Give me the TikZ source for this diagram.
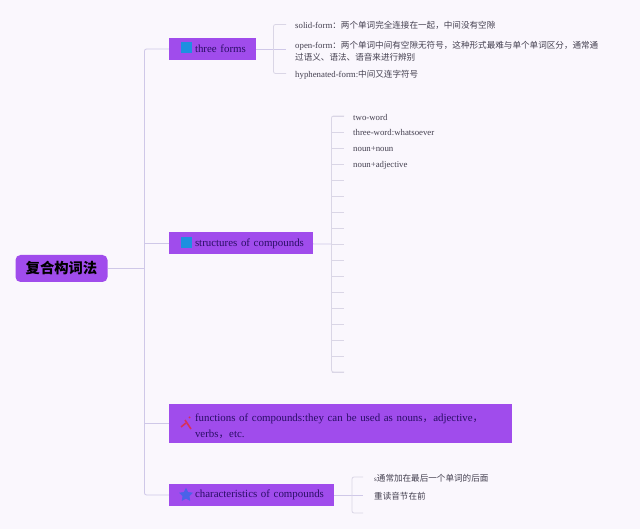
\documentclass[tikz,border=0pt]{standalone}
\usepackage{fontspec}
\setmainfont{Liberation Serif}
\newfontfamily\cjk[Scale=0.975]{Noto Sans CJK SC}
\usetikzlibrary{positioning,shapes.geometric}
\definecolor{paper}{HTML}{FAF7FD}
\definecolor{violet}{HTML}{A04CEC}
\definecolor{trunkline}{HTML}{CFC8E8}
\definecolor{stubline}{HTML}{DAD6E6}
\definecolor{iconblue}{HTML}{1E90E0}
\definecolor{starblue}{HTML}{4A62E8}
\definecolor{iconred}{HTML}{D8305A}
\definecolor{boxtext}{HTML}{2A0E66}
\definecolor{leaftext}{HTML}{444050}
\newcommand{\pad}{\hspace*{26pt}}

\begin{document}
\begin{tikzpicture}[x=1pt, y=-1pt]
  \tikzstyle{root}=[rectangle, fill=violet, rounded corners=5pt, minimum width=92pt, minimum height=27pt, inner sep=0pt, font=\cjk\fontsize{14.7}{17}\bfseries\selectfont]
  \tikzstyle{box}=[rectangle, fill=violet, text=boxtext, inner xsep=0pt, inner ysep=0pt, minimum height=22pt, align=left, font=\fontsize{10.9}{16}\selectfont]
  \tikzstyle{leaf}=[inner sep=0pt, text=leaftext, align=left, font=\fontsize{8.8}{12}\selectfont]
  \tikzstyle{link}=[draw=trunkline, line width=0.8pt]
  \tikzstyle{stub}=[draw=stubline, line width=0.8pt]
  \tikzstyle{square}=[rectangle, fill=iconblue, minimum size=11pt, inner sep=0pt]
  \tikzstyle{starmark}=[star, star points=5, star point ratio=2, draw=starblue, fill=starblue, line width=0.6pt, minimum size=13pt, inner sep=0pt]

  \fill[paper] (0,0) rectangle (640,529);

  \node[root] (root) at (61.5,268.5) {复合构词法};
  \node[box, text width=87pt] (forms) at (212.5,49) {\pad three forms};
  \node[box, text width=144pt] (struct) at (241,243.5) {\pad structures of compounds};
  \node[box, text width=343pt, minimum height=39pt] (funcs) at (340.5,423.5) {\rule{0pt}{13pt}\pad functions of compounds:they can be used as nouns{\cjk，}adjective{\cjk，}\\\pad verbs{\cjk，}etc.};
  \node[box, text width=165pt] (chars) at (251.5,495) {\pad characteristics of compounds};

  \node[square] (iconforms) at (186,48) {};
  \node[square] (iconstruct) at (186,243) {};
  \node[starmark] (iconchars) at (186,495) {};
  \coordinate (iconfuncs) at (186,424);
  \draw[iconred, line width=1.6pt] ([shift={(-1,-4)}]iconfuncs) -- ([shift={(5,5)}]iconfuncs);
  \draw[iconred, line width=1.6pt] ([shift={(-5,3)}]iconfuncs) -- ([shift={(0,-1)}]iconfuncs);
  \draw[iconred, line width=1.6pt] ([shift={(3,-6)}]iconfuncs) -- ([shift={(4,-7)}]iconfuncs);

  \coordinate (mid) at (144.5,268.5);
  \coordinate (top) at (144.5,49);
  \coordinate (bot) at (144.5,495);
  \draw[link] (root) -- (mid);
  \draw[link, rounded corners=2pt] (forms) -- (top) -- (bot) -- (chars);
  \draw[link] (struct) -- (struct -| mid);
  \draw[link] (funcs) -- (funcs -| mid);

  \coordinate (a1) at (286,24.5);
  \coordinate (a2) at (286,49);
  \coordinate (a3) at (286,73.5);
  \coordinate (ak) at (273.5,49);
  \draw[link] (forms) -- (a2);
  \draw[stub, rounded corners=2pt] (a1) -- (a1 -| ak) -- (a3 -| ak) -- (a3);
  \node[leaf, right=9pt of a1, yshift=-1pt] (solid) {solid-form{\cjk：两个单词完全连接在一起，中间没有空隙}};
  \node[leaf, right=9pt of a2, yshift=-2pt] (open) {open-form{\cjk：两个单词中间有空隙无符号，这种形式最难与单个单词区分，通常通}\\{\cjk 过语义、语法、语音来进行辨别}};
  \node[leaf, right=9pt of a3, yshift=-1.5pt] (hyph) {hyphenated-form:{\cjk 中间又连字符号}};

  \coordinate (bk) at (331.5,244);
  \draw[link] (struct) -- (bk);
  \foreach \i in {0,...,16} {
    \coordinate (b\i) at (344,116+16*\i);
    \draw[stub] (b\i -| bk) -- (b\i);
  }
  \draw[stub, rounded corners=2pt] (b0) -- (b0 -| bk) -- (b16 -| bk) -- (b16);
  \node[leaf, right=9pt of b0, yshift=-1pt] (two) {two-word};
  \node[leaf, right=9pt of b1, yshift=-1pt] (three) {three-word:whatsoever};
  \node[leaf, right=9pt of b2, yshift=-1pt] (nn) {noun+noun};
  \node[leaf, right=9pt of b3, yshift=-1pt] (na) {noun+adjective};

  \coordinate (c1) at (363,477);
  \coordinate (c2) at (363,495);
  \coordinate (c3) at (363,513);
  \coordinate (ck) at (352,495);
  \draw[link] (chars) -- (c2);
  \draw[stub, rounded corners=2pt] (c1) -- (c1 -| ck) -- (c3 -| ck) -- (c3);
  \node[leaf, right=11pt of c1, yshift=-1pt] (plural) {{\fontsize{7}{9}\selectfont s}{\cjk 通常加在最后一个单词的后面}};
  \node[leaf, right=11pt of c2, yshift=-1.5pt] (stress) {\cjk 重读音节在前};
\end{tikzpicture}
\end{document}
